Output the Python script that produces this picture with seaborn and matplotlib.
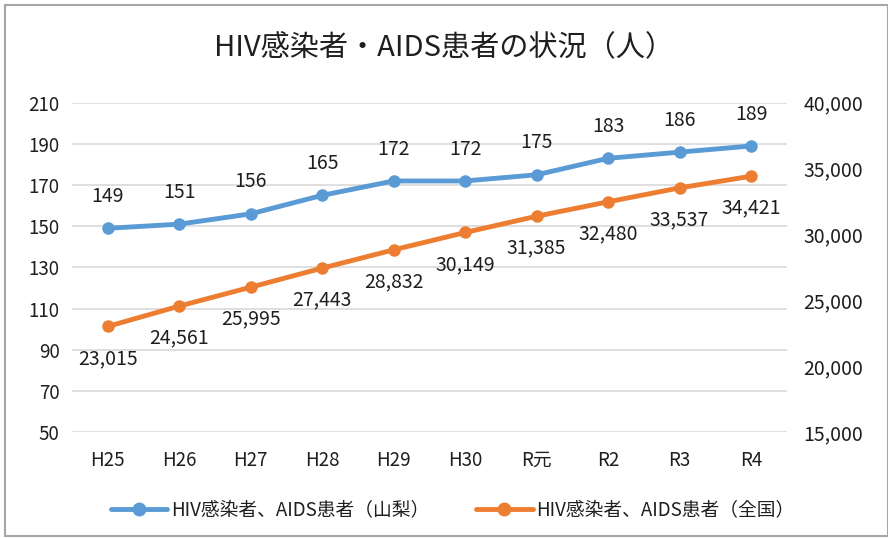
import numpy as np
import seaborn as sns
import matplotlib.pyplot as plt
from matplotlib.lines import Line2D
from matplotlib.patches import Rectangle

# data
years = ['H25', 'H26', 'H27', 'H28', 'H29', 'H30', 'R元', 'R2', 'R3', 'R4']
yamanashi = [149, 151, 156, 165, 172, 172, 175, 183, 186, 189]
zenkoku = [23015, 24561, 25995, 27443, 28832, 30149, 31385, 32480, 33537, 34421]
left_ticks = [50, 70, 90, 110, 130, 150, 170, 190, 210]
right_ticks = [15000, 20000, 25000, 30000, 35000, 40000]

sns.set_style('white')
plt.rcParams['font.family'] = ['Noto Sans CJK JP', 'DejaVu Sans']

blue = '#5B9BD5'
orange = '#ED7D31'
txt = '#1f1f1f'

fig = plt.figure(figsize=(8.88, 5.38), dpi=100)
ax = fig.add_axes([0.081, 0.197, 0.805, 0.612])
ax2 = ax.twinx()

x = np.arange(len(years))
sns.lineplot(x=x, y=yamanashi, ax=ax, color=blue, linewidth=3.5, marker='o',
             markersize=9, markeredgewidth=0, sort=False)
sns.lineplot(x=x, y=zenkoku, ax=ax2, color=orange, linewidth=3.5, marker='o',
             markersize=9, markeredgewidth=0, sort=False)

ax.set_ylim(50, 210)
ax.set_yticks(left_ticks)
ax2.set_ylim(15000, 40000)
ax2.set_yticks(right_ticks)
ax2.set_yticklabels([f'{v:,}' for v in right_ticks])
ax.set_xlim(-0.5, len(years) - 0.5)
ax.set_xticks(x)
ax.set_xticklabels(years)

ax.grid(axis='y', color='#D9D9D9', linewidth=1.2)
ax.set_axisbelow(True)
for a in (ax, ax2):
    for s in a.spines.values():
        s.set_visible(False)
ax.tick_params(axis='both', length=0, labelsize=13.5, colors=txt)
ax.tick_params(axis='y', pad=9)
ax.tick_params(axis='x', pad=13)
ax2.tick_params(axis='y', length=0, labelsize=14, colors=txt, pad=12)

for i, v in enumerate(yamanashi):
    ax.annotate(str(v), (i, v), xytext=(0, 23), textcoords='offset points',
                ha='center', va='center', fontsize=14, color=txt)
for i, v in enumerate(zenkoku):
    ax2.annotate(f'{v:,}', (i, v), xytext=(0, -23), textcoords='offset points',
                 ha='center', va='center', fontsize=14, color=txt)

fig.text(0.5, 0.91, 'HIV感染者・AIDS患者の状況（人）', ha='center', va='center',
         fontsize=21, color=txt)

handles = [Line2D([], [], color=blue, linewidth=3.5, marker='o', markersize=9),
           Line2D([], [], color=orange, linewidth=3.5, marker='o', markersize=9)]
fig.legend(handles, ['HIV感染者、AIDS患者（山梨）', 'HIV感染者、AIDS患者（全国）'],
           loc='center', bbox_to_anchor=(0.51, 0.052), ncol=2, frameon=False,
           fontsize=13.5, handlelength=3.0, handletextpad=0.2, columnspacing=2.5,
           labelcolor=txt)

fig.patches.append(Rectangle((0.006, 0.004), 0.994, 0.987, transform=fig.transFigure,
                             fill=False, edgecolor='#A6A6A6', linewidth=1.5))

fig.savefig('out.png', dpi=100)
